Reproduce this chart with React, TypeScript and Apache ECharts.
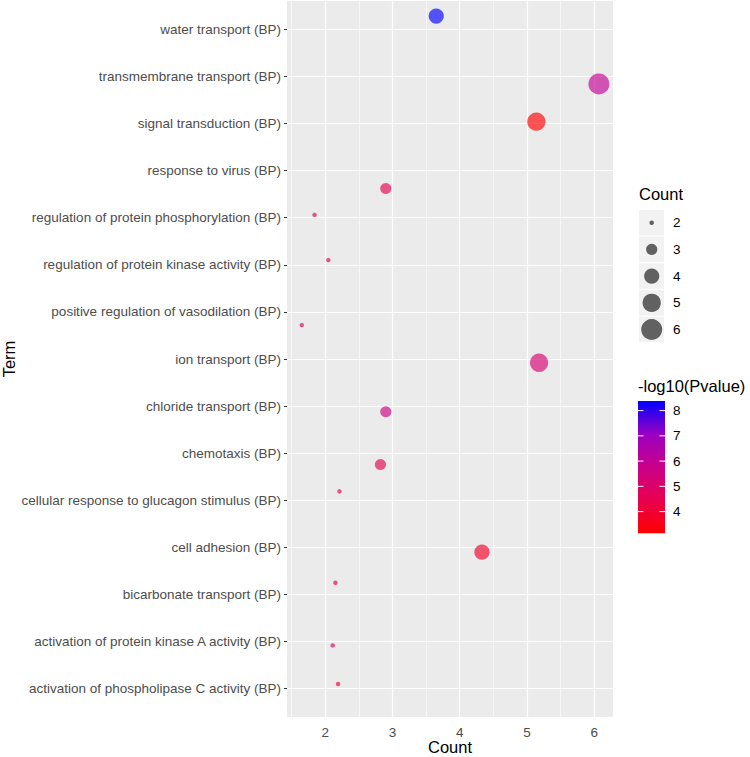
import { useEffect, useRef } from "react";
import * as echarts from "echarts";

// Terms, bottom to top (alphabetical, as ggplot orders a discrete axis)
const terms = [
  "activation of phospholipase C activity (BP)",
  "activation of protein kinase A activity (BP)",
  "bicarbonate transport (BP)",
  "cell adhesion (BP)",
  "cellular response to glucagon stimulus (BP)",
  "chemotaxis (BP)",
  "chloride transport (BP)",
  "ion transport (BP)",
  "positive regulation of vasodilation (BP)",
  "regulation of protein kinase activity (BP)",
  "regulation of protein phosphorylation (BP)",
  "response to virus (BP)",
  "signal transduction (BP)",
  "transmembrane transport (BP)",
  "water transport (BP)",
];
const counts = [2, 2, 2, 4, 2, 3, 3, 5, 2, 2, 2, 3, 5, 6, 4];
const logP = [4.2, 4.9, 4.9, 3.8, 4.3, 4.5, 5.6, 5.2, 4.8, 4.6, 4.6, 4.5, 3.14, 6.0, 8.38];
// jittered positions
const jitterX = [2.19, 2.11, 2.15, 4.33, 2.21, 2.82, 2.9, 5.18, 1.65, 2.045, 1.84, 2.9, 5.14, 6.07, 3.65];
const jitterY = [0.1, -0.08, 0.25, -0.1, 0.19, -0.24, -0.12, -0.08, -0.28, 0.1, 0.06, -0.38, 0.04, -0.16, 0.28];

const xBreaks = [2, 3, 4, 5, 6];
const xMinorBreaks = [1.5, 2.5, 3.5, 4.5, 5.5];
const countBreaks = [2, 3, 4, 5, 6];
const pBreaks = [4, 5, 6, 7, 8];
const pMin = 3.14;
const pMax = 8.38;
const gradientColors = ["#FF0000", "#E8004F", "#CA0089", "#9A00C3", "#0000FF"];

const FONT = "'Liberation Sans', Arial, sans-serif";
const ALPHA = 0.65;
const D_MIN = 4.5;
const D_MAX = 21;
const sizeOf = (c: number) =>
  Math.sqrt(D_MIN * D_MIN + ((c - 2) / 4) * (D_MAX * D_MAX - D_MIN * D_MIN));

export default function App() {
  const ref = useRef<HTMLDivElement>(null);
  useEffect(() => {
    if (!ref.current) return;
    const chart = echarts.init(ref.current, null, { renderer: "svg" });

    const data = terms.map((t, i) => [jitterX[i], i + jitterY[i], counts[i], logP[i], t]);

    const graphics: any[] = [];
    // axis titles
    graphics.push({
      type: "text",
      x: 450,
      y: 747,
      style: { text: "Count", font: `16.5px ${FONT}`, fill: "#000", align: "center", verticalAlign: "middle" },
    });
    graphics.push({
      type: "text",
      x: 9,
      y: 359,
      rotation: Math.PI / 2,
      style: { text: "Term", font: `16.5px ${FONT}`, fill: "#000", align: "center", verticalAlign: "middle" },
    });
    // size legend
    const lx = 639;
    graphics.push({
      type: "text",
      x: lx,
      y: 194,
      style: { text: "Count", font: `16.5px ${FONT}`, fill: "#000", align: "left", verticalAlign: "middle" },
    });
    countBreaks.forEach((c, k) => {
      const cy = 222.7 + k * 26.7;
      graphics.push({
        type: "rect",
        shape: { x: lx, y: cy - 12.8, width: 25, height: 25.6 },
        style: { fill: "#F2F2F2" },
      });
      graphics.push({
        type: "circle",
        shape: { cx: lx + 12.7, cy, r: sizeOf(c) / 2 },
        style: { fill: "#000", opacity: 0.6 },
      });
      graphics.push({
        type: "text",
        x: lx + 34,
        y: cy,
        style: { text: String(c), font: `13.5px ${FONT}`, fill: "#000", align: "left", verticalAlign: "middle" },
      });
    });
    // colour bar legend
    const bx = 638, bTop = 401, bBot = 533.3, bw = 27;
    const pxPer = (bBot - bTop) / (pMax - pMin);
    graphics.push({
      type: "text",
      x: bx,
      y: 386,
      style: { text: "-log10(Pvalue)", font: `16.5px ${FONT}`, fill: "#000", align: "left", verticalAlign: "middle" },
    });
    graphics.push({
      type: "rect",
      shape: { x: bx, y: bTop, width: bw, height: bBot - bTop },
      style: {
        fill: new echarts.graphic.LinearGradient(
          0, 1, 0, 0,
          gradientColors.map((c, i) => ({ offset: i / (gradientColors.length - 1), color: c }))
        ),
      },
    });
    pBreaks.forEach((v) => {
      const y = bBot - (v - pMin) * pxPer;
      graphics.push({ type: "line", shape: { x1: bx, y1: y, x2: bx + 5.5, y2: y }, style: { stroke: "#fff", lineWidth: 1 } });
      graphics.push({ type: "line", shape: { x1: bx + bw - 5.5, y1: y, x2: bx + bw, y2: y }, style: { stroke: "#fff", lineWidth: 1 } });
      graphics.push({
        type: "text",
        x: bx + 35,
        y,
        style: { text: String(v), font: `13.5px ${FONT}`, fill: "#000", align: "left", verticalAlign: "middle" },
      });
    });

    const gridLines: any[] = [
      ...xMinorBreaks.map((v) => ({ xAxis: v, lineStyle: { width: 0.6 } })),
      ...xBreaks.map((v) => ({ xAxis: v, lineStyle: { width: 1.2 } })),
      ...terms.map((_, i) => ({ yAxis: i, lineStyle: { width: 1.2 } })),
    ];

    chart.setOption({
      animation: false,
      grid: {
        left: 287,
        right: 137,
        top: 1,
        bottom: 40,
        show: true,
        backgroundColor: "#EBEBEB",
        borderWidth: 0,
      },
      xAxis: {
        type: "value",
        min: 1.43,
        max: 6.28,
        axisLine: { show: false },
        splitLine: { show: false },
        axisTick: { show: true, length: 3, lineStyle: { color: "#333", width: 1 }, customValues: xBreaks },
        axisLabel: { customValues: xBreaks, color: "#4D4D4D", fontSize: 13.5, fontFamily: FONT, margin: 8 },
      },
      yAxis: {
        type: "value",
        min: -0.6,
        max: 14.6,
        axisLine: { show: false },
        splitLine: { show: false },
        axisTick: { show: true, length: 3, lineStyle: { color: "#333", width: 1 }, customValues: terms.map((_, i) => i) },
        axisLabel: {
          customValues: terms.map((_, i) => i),
          formatter: (v: number) => terms[Math.round(v)] ?? "",
          color: "#4D4D4D",
          fontSize: 13.5,
          fontFamily: FONT,
          margin: 6,
        },
      },
      visualMap: {
        show: false,
        type: "continuous",
        dimension: 3,
        min: pMin,
        max: pMax,
        seriesIndex: 1,
        inRange: { color: gradientColors },
      },
      series: [
        {
          type: "scatter",
          data: [],
          z: 1,
          silent: true,
          markLine: {
            z: 1,
            silent: true,
            symbol: ["none", "none"],
            label: { show: false },
            lineStyle: { color: "#FFFFFF", type: "solid" },
            data: gridLines,
          },
        },
        {
          type: "scatter",
          z: 10,
          data,
          symbolSize: (v: any[]) => sizeOf(v[2]),
          itemStyle: { opacity: ALPHA },
        },
      ],
      graphic: graphics,
    });
    return () => chart.dispose();
  }, []);
  return (
    <div
      ref={ref}
      style={{ position: "absolute", left: 0, top: 0, width: 750, height: 757, background: "#fff" }}
    />
  );
}
